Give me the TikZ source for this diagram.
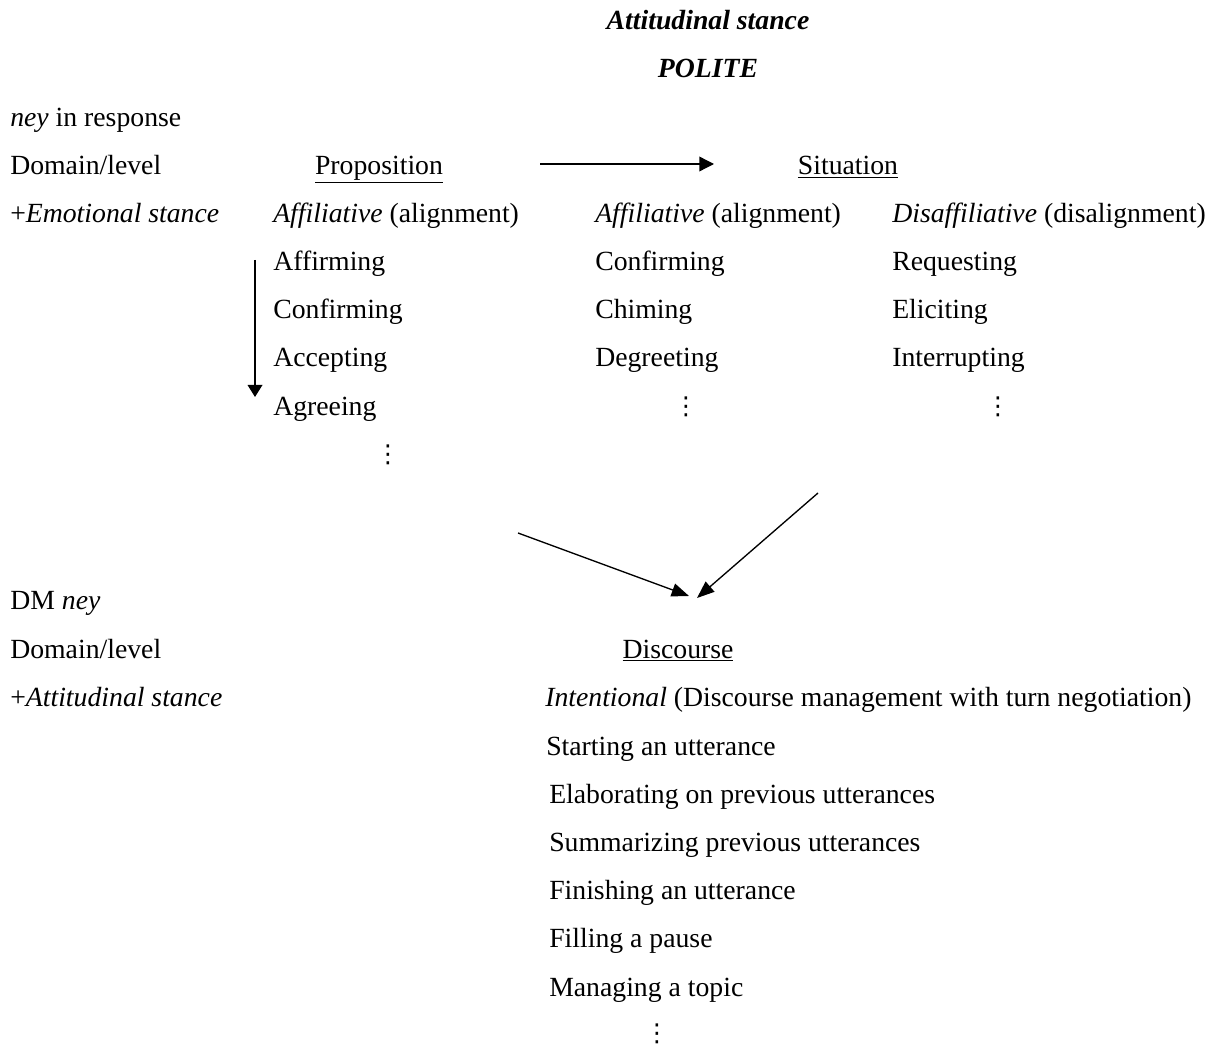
\documentclass[tikz,border=0pt]{standalone}
\usepackage{fontspec}
\setmainfont{Liberation Serif}
\newfontfamily\dvfont{DejaVu Sans}
\usetikzlibrary{arrows.meta}
\begin{document}
\begin{tikzpicture}[x=0.75pt,y=-0.75pt,
  txt/.style={anchor=base west,inner sep=0pt,font=\fontsize{20.8}{25}\selectfont},
  ctxt/.style={anchor=base,inner sep=0pt,font=\fontsize{20.8}{25}\selectfont},
  vd/.style={anchor=center,inner sep=0pt,font=\fontsize{18.5}{20}\dvfont},
  ttl/.style={anchor=base,inner sep=0pt,font=\fontsize{20.8}{25}\selectfont\bfseries\itshape},
  arr/.style={line width=1pt,-{Triangle[length=11pt,width=11pt]}},
  darr/.style={line width=1pt,-{Triangle[length=13pt,width=10pt]}},
  varr/.style={line width=1pt,-{Triangle[length=9pt,width=11pt]}}]
\useasboundingbox (0,0) rectangle (1215,1048);
% titles
\node[ttl] (t1) at (708,30) {Attitudinal stance};
\node[ttl] (t2) at (708,78) {POLITE};
% upper block
\node[txt] (ney) at (10,127) {\textit{ney} in response};
\node[txt] (dl1) at (10,175) {Domain/level};
\node[ctxt] (prop) at (379,175) {\underline{Proposition}};
\node[ctxt] (sit) at (848,175) {\underline{Situation}};
\coordinate (ha) at (540,164);
\coordinate (hb) at (714,164);
\draw[arr] (ha) -- (hb);
\node[txt] (emo) at (10,223) {+\textit{Emotional stance}};
\node[txt] (aff1) at (273,223) {\textit{Affiliative} (alignment)};
\node[txt] (aff2) at (595,223) {\textit{Affiliative} (alignment)};
\node[txt] (dis) at (892,223) {\textit{Disaffiliative} (disalignment)};
\node[txt] (a1) at (273,271) {Affirming};
\node[txt] (a2) at (273,319) {Confirming};
\node[txt] (a3) at (273,367) {Accepting};
\node[txt] (a4) at (273,416) {Agreeing};
\node[vd] (a5) at (388,455) {⋮};
\node[txt] (b1) at (595,271) {Confirming};
\node[txt] (b2) at (595,319) {Chiming};
\node[txt] (b3) at (595,367) {Degreeting};
\node[vd] (b4) at (686,407) {⋮};
\node[txt] (c1) at (892,271) {Requesting};
\node[txt] (c2) at (892,319) {Eliciting};
\node[txt] (c3) at (892,367) {Interrupting};
\node[vd] (c4) at (998,407) {⋮};
\coordinate (va) at (255,260);
\coordinate (vb) at (255,397);
\draw[varr] (va) -- (vb);
% diagonal arrows
\coordinate (la) at (518,533);
\coordinate (lb) at (689,596);
\coordinate (ra) at (818,493);
\coordinate (rb) at (697,598);
\draw[darr] (la) -- (lb);
\draw[darr] (ra) -- (rb);
% lower block
\node[txt] (dm) at (10,610) {DM \textit{ney}};
\node[txt] (dl2) at (10,658) {Domain/level};
\node[ctxt] (disc) at (678,658) {\underline{Discourse}};
\node[txt] (att) at (10,706) {+\textit{Attitudinal stance}};
\node[txt] (int) at (545,706) {\textit{Intentional} (Discourse management with turn negotiation)};
\node[txt] (d1) at (546,755) {Starting an utterance};
\node[txt] (d2) at (549,803) {Elaborating on previous utterances};
\node[txt] (d3) at (549,851) {Summarizing previous utterances};
\node[txt] (d4) at (549,899) {Finishing an utterance};
\node[txt] (d5) at (549,947) {Filling a pause};
\node[txt] (d6) at (549,996) {Managing a topic};
\node[vd] (d7) at (657,1034) {⋮};
\end{tikzpicture}
\end{document}
